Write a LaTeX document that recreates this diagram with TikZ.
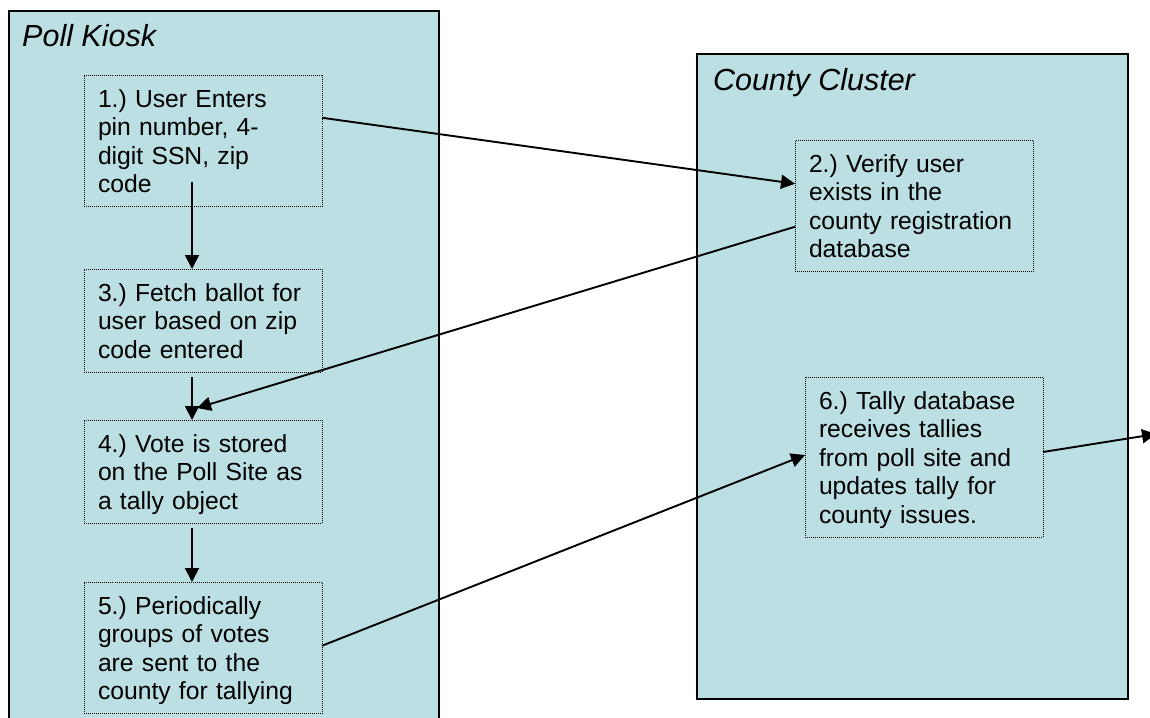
\documentclass[tikz,border=0pt]{standalone}
\usepackage{fontspec}
\setmainfont{Liberation Sans}
\usetikzlibrary{arrows.meta}
\definecolor{clusterfill}{RGB}{187,223,227}
\frenchspacing
% struts give every step box the same top and bottom margins
\newcommand{\steptext}[1]{\rule{0pt}{32pt}#1\rule[-14pt]{0pt}{14pt}}
\begin{document}
\begin{tikzpicture}[x=1pt,y=-1pt,
  cluster/.style={draw=black, line width=1.8pt, fill=clusterfill, anchor=north west,
    inner sep=0pt, outer sep=0pt},
  clustertitle/.style={anchor=base west, inner sep=0pt,
    font=\fontsize{30.5}{34}\selectfont\itshape},
  stepbox/.style={draw=black, line width=1pt, dash pattern=on 1pt off 1pt,
    anchor=north west, text width=210pt, inner xsep=14pt, inner ysep=0pt,
    outer sep=0pt, align=left, font=\fontsize{24.7}{28.5}\selectfont},
  flow/.style={-{Triangle[length=14pt,width=14pt]}, line width=1.9pt}
]
\path[use as bounding box] (0,0) rectangle (1150,717);
\clip (0,0) rectangle (1150,717);
\fill[white] (0,0) rectangle (1150,717);

% containers
\node[cluster, minimum width=430pt, minimum height=720pt] (kiosk) at (9,11) {};
\node[cluster, minimum width=431pt, minimum height=645pt] (county) at (697,54) {};
\node[clustertitle] (kiosktitle) at (22,46) {Poll Kiosk};
\node[clustertitle] (countytitle) at (713,90) {County Cluster};

% steps
\node[stepbox] (s1) at (84,75)
  {\steptext{1.) User Enters\\pin number, 4-\\digit SSN, zip\\code}};
\node[stepbox] (s3) at (84,269)
  {\steptext{3.) Fetch ballot for\\user based on zip\\code entered}};
\node[stepbox] (s4) at (84,420)
  {\steptext{4.) Vote is stored\\on the Poll Site as\\a tally object}};
\node[stepbox] (s5) at (84,582)
  {\steptext{5.) Periodically\\groups of votes\\are sent to the\\county for tallying}};
\node[stepbox] (s2) at (795,140)
  {\steptext{2.) Verify user\\exists in the\\county registration\\database}};
\node[stepbox] (s6) at (805,377)
  {\steptext{6.) Tally database\\receives tallies\\from poll site and\\updates tally for\\county issues.}};

\coordinate (out) at (1156,434);

% flow
\draw[flow] ([shift={(-11pt,25pt)}]s1.south) -- ([xshift=-11pt]s3.north);
\draw[flow] ([shift={(-11pt,-5pt)}]s3.south) -- ([xshift=-11pt]s4.north);
\draw[flow] ([shift={(-11pt,-5pt)}]s4.south) -- ([xshift=-11pt]s5.north);
\draw[flow] ([yshift=23pt]s1.east) -- ([yshift=22pt]s2.west);
\draw[flow] ([yshift=-21pt]s2.west) -- ([shift={(-6pt,12pt)}]s4.north);
\draw[flow] ([yshift=2pt]s5.east) -- ([yshift=2pt]s6.west);
\draw[flow] ([yshift=5pt]s6.east) -- (out);
\end{tikzpicture}
\end{document}
